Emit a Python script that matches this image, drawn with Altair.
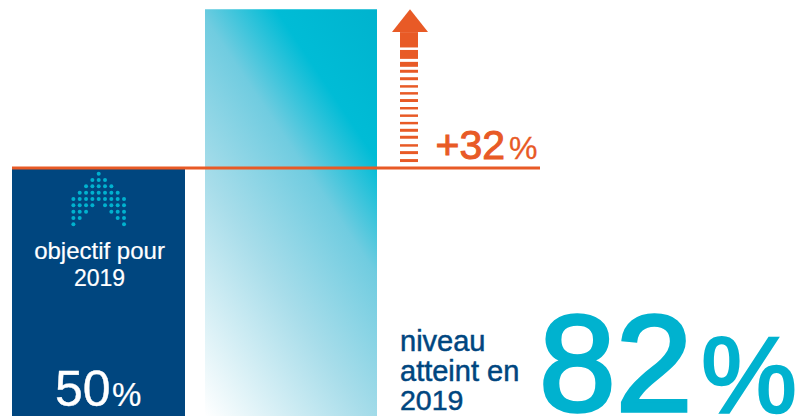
import altair as alt
import pandas as pd

NAVY = "#00467F"
CYAN = "#00B2CF"
ORANGE = "#E85A26"
FONT = "Liberation Sans"

# The two columns, in percent
bar_labels = ["objectif pour 2019", "niveau atteint en 2019"]
bar_values = [50, 82]
bar_left = [12, 205]
bar_right = [185, 377]

# Stripes of the rising arrow, from the stem down to the target line (percent)
stripe_top = [77.4, 73.8, 71.4, 69.8, 68.3, 66.7, 65.3, 63.9, 62.3, 60.8, 59.3, 57.9, 56.5, 54.8, 53.4, 51.8]
stripe_bottom = [74.3, 72.0, 70.4, 69.2, 67.7, 66.2, 64.8, 63.3, 61.8, 60.3, 58.8, 57.3, 55.9, 54.3, 52.8, 51.2]

# Arrow head outline
head_x = [392, 410, 428]
head_top = [77.4, 82, 77.4]

# Dotted arrow inside the navy column: grid columns present on each row
dot_rows = [
    [0],
    [-1, 0, 1],
    [-2, -1, 0, 1, 2],
    [-3, -2, -1, 0, 1, 2, 3],
    [-4, -3, -2, -1, 0, 1, 2, 3, 4],
    [-4, -3, -2, -1, 1, 2, 3, 4],
    [-4, -3, -2, 2, 3, 4],
    [-4, -3, 3, 4],
    [-4, 4],
]

x_scale = alt.Scale(domain=[0, 798], nice=False, zero=False)
y_scale = alt.Scale(domain=[0, 83.87], nice=False, zero=False)
X = alt.X("x:Q", scale=x_scale, axis=None)
Y = alt.Y("y:Q", scale=y_scale, axis=None)

bars = pd.DataFrame({"label": bar_labels, "x": bar_left, "x2": bar_right, "y": bar_values, "y0": [0, 0]})

target_bar = alt.Chart(bars[bars.y == 50]).mark_rect(color=NAVY).encode(
    x=X, x2="x2:Q", y=Y, y2="y0:Q"
)

reached_gradient = alt.Gradient(
    gradient="linear",
    x1=0, y1=1, x2=0.736, y2=-0.165,
    stops=[
        alt.GradientStop(color="#FFFFFF", offset=0),
        alt.GradientStop(color="#A8DDEA", offset=0.36),
        alt.GradientStop(color="#70CCE0", offset=0.6),
        alt.GradientStop(color="#00BCD6", offset=0.773),
        alt.GradientStop(color="#00B3CE", offset=1),
    ],
)
reached_bar = alt.Chart(bars[bars.y == 82]).mark_rect(color=reached_gradient).encode(
    x=X, x2="x2:Q", y=Y, y2="y0:Q"
)

target_line = alt.Chart(pd.DataFrame({"x": [12], "x2": [540], "y": [50]})).mark_rule(
    color=ORANGE, strokeWidth=3
).encode(x=X, x2="x2:Q", y=Y)

head = alt.Chart(pd.DataFrame({"x": head_x, "y": head_top, "y0": [77.4] * 3})).mark_area(
    color=ORANGE
).encode(x=X, y=Y, y2="y0:Q")

stripes = alt.Chart(
    pd.DataFrame({"x": [400] * len(stripe_top), "x2": [418] * len(stripe_top), "y": stripe_top, "y0": stripe_bottom})
).mark_rect(color=ORANGE).encode(x=X, x2="x2:Q", y=Y, y2="y0:Q")

dots = alt.Chart(
    pd.DataFrame(
        [
            {"x": 98.7 + col * 6.33, "y": 48.85 - row * 1.277}
            for row, cols in enumerate(dot_rows)
            for col in cols
        ]
    )
).mark_circle(color=CYAN, opacity=1, size=16).encode(x=X, y=Y)


def label(text, x, y, size, color, align="left", weight=0.35):
    return alt.Chart(pd.DataFrame({"t": [text]})).mark_text(
        font=FONT, fontSize=size, color=color, align=align, baseline="alphabetic",
        stroke=color, strokeWidth=weight,
    ).encode(text="t:N", x=alt.value(x), y=alt.value(y))


texts = [
    label("objectif pour", 99.5, 259, 24, "#FFFFFF", "center", 0.2),
    label("2019", 99.5, 285.5, 23, "#FFFFFF", "center", 0.2),
    label("50", 55, 405.5, 50, "#FFFFFF", weight=0.4),
    label("%", 112, 405.5, 33, "#FFFFFF", weight=0.2),
    label("+32", 435.5, 158.5, 41, ORANGE, weight=1),
    label("%", 509, 158.5, 32, ORANGE, weight=0.3),
    label("niveau", 400, 351, 29, NAVY, weight=0.5),
    label("atteint en", 400, 380.5, 29, NAVY, weight=0.5),
    label("2019", 400, 410, 28.5, NAVY, weight=0.5),
    label("82", 539, 411, 138, CYAN, weight=3.5),
    label("%", 701, 412, 108, CYAN, weight=2.5),
]

chart = alt.layer(target_bar, reached_bar, dots, stripes, head, target_line, *texts).properties(
    width=798,
    height=416,
    padding=0,
    autosize=alt.AutoSizeParams(type="none"),
    background="#FFFFFF",
).configure_view(stroke=None)

chart.save("out.html", embed_options={"renderer": "svg", "actions": False})
